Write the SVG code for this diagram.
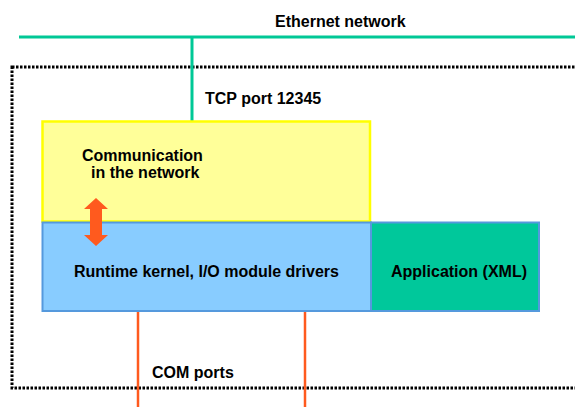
<svg xmlns="http://www.w3.org/2000/svg" width="575" height="407" viewBox="0 0 575 407">
  <style>
    text { font-family: "Liberation Sans", Arial, sans-serif; font-weight: bold; font-size: 16px; fill: #000; }
    .net { stroke: #00C896; stroke-width: 3; fill: none; }
    .com { stroke: #FF5A1E; stroke-width: 2.5; fill: none; }
  </style>

  <!-- device boundary -->
  <rect x="12" y="67" width="600" height="321" fill="none" stroke="#000" stroke-width="3" stroke-dasharray="2.5 1.5"/>

  <g id="connectors">
    <line class="net" x1="19" y1="37" x2="575" y2="37"/>
    <line class="net" x1="192" y1="37" x2="192" y2="121"/>
    <line class="com" x1="138" y1="311" x2="138" y2="407"/>
    <line class="com" x1="305" y1="311" x2="305" y2="407"/>
  </g>

  <g id="ethernet-label">
    <text x="275" y="27">Ethernet network</text>
  </g>
  <g id="tcp-label">
    <text x="205" y="104">TCP port 12345</text>
  </g>

  <g id="communication">
    <rect x="42.5" y="121.5" width="327.5" height="100" fill="#FFFF99" stroke="#FFFF00" stroke-width="2.5"/>
    <text x="82" y="161">Communication</text>
    <text x="91" y="178">in the network</text>
  </g>

  <g id="runtime">
    <rect x="42.5" y="222.5" width="328.5" height="88.5" fill="#88CCFF" stroke="#5599DD" stroke-width="2"/>
    <text x="74" y="277">Runtime kernel, I/O module drivers</text>
  </g>

  <g id="application">
    <rect x="371" y="222.5" width="168" height="88.5" fill="#00C89B" stroke="#5599DD" stroke-width="2"/>
    <text x="391" y="277">Application (XML)</text>
  </g>

  <g id="com-label">
    <text x="152" y="378">COM ports</text>
  </g>

  <!-- bidirectional exchange between communication and runtime -->
  <g id="exchange-arrow">
    <polygon points="96,198 108,209 102,209 102,235 108,235 96,246 84,235 90,235 90,209 84,209" fill="#FF5A1E"/>
  </g>
</svg>
